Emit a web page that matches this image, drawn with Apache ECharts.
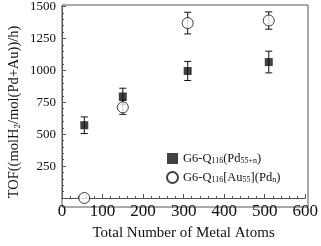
<!DOCTYPE html>
<html><head><meta charset="utf-8">
<script src="https://cdn.jsdelivr.net/npm/echarts@6/dist/echarts.min.js"></script>
<style>html,body{margin:0;padding:0;background:#fff}#c{width:321px;height:246px}</style>
</head><body><div id="c"></div>
<script>
const atomsPd = [55, 150, 310, 510];
const tofPd = [570, 795, 995, 1065];
const errPd = [65, 65, 75, 85];
const atomsAu = [55, 150, 310, 510];
const tofAu = [0, 710, 1370, 1390];
const errAu = [0, 55, 85, 68];
const xTicks = [0, 100, 200, 300, 400, 500, 600];
const yTicks = [0, 250, 500, 750, 1000, 1250, 1500];

const serif = '"Liberation Serif", "Times New Roman", serif';
function errData(xs, ys, es){ return xs.map((x,i)=>[x, ys[i]-es[i], ys[i]+es[i]]); }
function errRender(params, api){
  const x = api.value(0);
  const lo = api.coord([x, api.value(1)]);
  const hi = api.coord([x, api.value(2)]);
  if (Math.abs(lo[1]-hi[1]) < 1) return null;
  const w = 3.5;
  const st = {stroke:'#111', lineWidth:1};
  return {type:'group', children:[
    {type:'line', shape:{x1:lo[0],y1:lo[1],x2:hi[0],y2:hi[1]}, style:st},
    {type:'line', shape:{x1:lo[0]-w,y1:lo[1],x2:lo[0]+w,y2:lo[1]}, style:st},
    {type:'line', shape:{x1:hi[0]-w,y1:hi[1],x2:hi[0]+w,y2:hi[1]}, style:st}
  ]};
}
const chart = echarts.init(document.getElementById('c'));
const name1 = 'G6-Q116(Pd55+n)';
const name2 = 'G6-Q116[Au55](Pdn)';
chart.setOption({
  animation:false,
  grid:{left:62, right:13, top:5, bottom:39},
  xAxis:{type:'value', min:0, max:600, interval:100,
    axisLine:{lineStyle:{color:'#555'}},
    axisTick:{inside:true, length:4, lineStyle:{color:'#555'}},
    minorTick:{show:true, splitNumber:5, length:2, lineStyle:{color:'#555'}},
    splitLine:{show:false},
    axisLabel:{fontFamily:serif, fontSize:17, color:'#111', margin:5,
      formatter:v=>String(xTicks[xTicks.indexOf(v)])},
    name:'Total Number of Metal Atoms', nameLocation:'middle', nameGap:28,
    nameTextStyle:{fontFamily:serif, fontSize:15, color:'#111'}
  },
  yAxis:{type:'value', min:0, max:1500, interval:250,
    axisLine:{lineStyle:{color:'#555'}},
    axisTick:{inside:true, length:4, lineStyle:{color:'#555'}},
    minorTick:{show:true, splitNumber:5, length:2, lineStyle:{color:'#555'}},
    splitLine:{show:false},
    axisLabel:{fontFamily:serif, fontSize:13, color:'#111', margin:6,
      formatter:v=> v===0 ? '' : String(yTicks[yTicks.indexOf(v)])}
  },
  graphic:[
    {type:'rect', shape:{x:62, y:5, width:246, height:202}, style:{fill:'none', stroke:'#555', lineWidth:1}, silent:true, z:0},
    {type:'text', x:14, y:112, rotation:Math.PI/2, silent:true,
      style:{text:'{a|TOF((molH}{s|2}{a|/mol(Pd+Au))/h)}', align:'center', verticalAlign:'middle',
        rich:{a:{fontFamily:serif, fontSize:14.5, fill:'#111'}, s:{fontFamily:serif, fontSize:9, fill:'#111', padding:[7,0,0,0]}}}}
  ],
  legend:{orient:'vertical', left:161, top:147, itemGap:6, itemWidth:11, itemHeight:11,
    data:[name1, name2],
    formatter:function(n){
      if(n===name1) return '{a|G6-Q}{s|116}{a|(Pd}{s|55+n}{a|)}';
      return '{a|G6-Q}{s|116}{a|[Au}{s|55}{a|](Pd}{s|n}{a|)}';
    },
    textStyle:{rich:{a:{fontFamily:serif, fontSize:12.5, color:'#111'}, s:{fontFamily:serif, fontSize:8, color:'#111', padding:[4,0,0,0]}}}
  },
  series:[
    {type:'custom', renderItem:errRender, data:errData(atomsPd, tofPd, errPd), encode:{x:0,y:[1,2]}, z:1, silent:true},
    {type:'custom', renderItem:errRender, data:errData(atomsAu, tofAu, errAu), encode:{x:0,y:[1,2]}, z:1, silent:true},
    {name:name1, type:'scatter', symbol:'rect', symbolSize:8, itemStyle:{color:'#111'},
      data:atomsPd.map((x,i)=>[x,tofPd[i]]), z:3},
    {name:name2, type:'scatter', symbol:'circle', symbolSize:11, clip:false,
      itemStyle:{color:'#fff', borderColor:'#111', borderWidth:1},
      data:atomsAu.map((x,i)=>[x,tofAu[i]]), z:4}
  ]
});
</script></body></html>
